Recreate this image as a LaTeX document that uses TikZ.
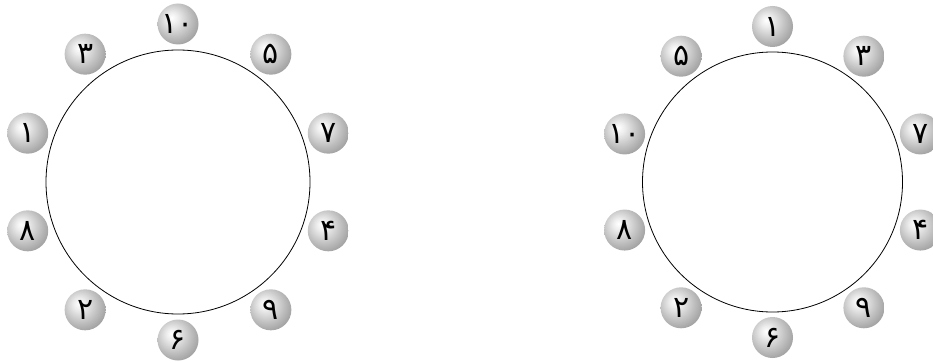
\documentclass[tikz,border=0pt]{standalone}
\usepackage{fontspec}
\usetikzlibrary{calc}
\newfontfamily\fadigits[Script=Arabic]{DejaVu Sans}
\pgfdeclareradialshading{myball}{\pgfpoint{-8bp}{8bp}}{%
  color(0bp)=(white);
  color(7bp)=(white!93!black);
  color(22bp)=(white!74!black);
  color(40bp)=(white!52!black);
  color(55bp)=(white!40!black);
  color(70bp)=(white!35!black)}
\tikzset{
  ring/.style={draw=black, line width=0.8pt},
  ballnode/.style={circle, minimum size=41pt, inner sep=0pt, shading=myball,
    font=\fadigits\fontsize{30}{30}\selectfont, text=black}
}
\begin{document}
\begin{tikzpicture}[x=1pt,y=1pt]
\useasboundingbox (0,0) rectangle (933,362);
% left
\coordinate (lc) at (178,180);
\node[ring, circle, minimum size=264pt, inner sep=0pt] (leftring) at (lc) {};
\foreach \lab [count=\i from 0] in {۱۰,۵,۷,۴,۹,۶,۲,۸,۱,۳}{
  \node[ballnode] (l\i) at ($(lc)+({90-36*\i}:158)$) {\lab};
}
% right
\coordinate (rc) at (772.5,180);
\node[ring, circle, minimum size=260pt, inner sep=0pt] (rightring) at (rc) {};
\foreach \lab [count=\i from 0] in {۱,۳,۷,۴,۹,۶,۲,۸,۱۰,۵}{
  \node[ballnode] (r\i) at ($(rc)+({90-36*\i}:155.5)$) {\lab};
}
\end{tikzpicture}
\end{document}
